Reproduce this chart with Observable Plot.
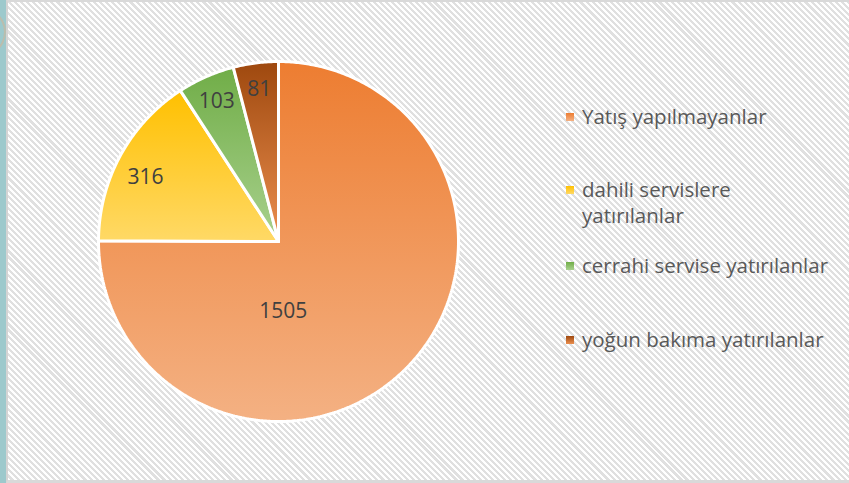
<!DOCTYPE html>
<html><head><meta charset="utf-8">
<script src="https://cdn.jsdelivr.net/npm/d3@7"></script>
<script src="https://cdn.jsdelivr.net/npm/@observablehq/plot@0.6"></script>
<style>
html,body{margin:0;padding:0;width:849px;height:483px;overflow:hidden;background:#fff}
#wrap{position:relative;width:849px;height:483px;overflow:hidden}
#teal{position:absolute;left:0;top:0;width:6px;height:483px;background:#9dc9cc}
#deco{position:absolute;left:-60px;top:4px;width:66px;height:56px;border-radius:50%;border:2px solid #c8b8a0;box-sizing:border-box;opacity:.7}
#bg{position:absolute;left:6px;top:0;width:843px;height:483px;box-sizing:border-box;border-top:2px solid #d9d9d9;border-left:2px solid #d4d4d4;border-bottom:3px solid #d9d9d9;
 background:repeating-linear-gradient(45deg,#ffffff 0px,#ffffff 2.1px,#e0e0e0 2.1px,#e0e0e0 4.3px)}
#chart{position:absolute;left:0;top:0}
#legend{position:absolute;left:0;top:0;font-family:"Open Sans",Lato,sans-serif;font-size:20.5px;color:#595959}
.item{position:absolute;left:582px;line-height:26px;white-space:nowrap}
.sw{position:absolute;left:-16px;top:10px;width:8px;height:8px}
</style></head>
<body><div id="wrap"><div id="teal"></div><div id="deco"></div><div id="bg"></div><div id="chart"></div><div id="legend"></div></div>
<script>
const categories = ["Yatış yapılmayanlar", "dahili servislere yatırılanlar", "cerrahi servise yatırılanlar", "yoğun bakıma yatırılanlar"];
const legendLines = [["Yatış yapılmayanlar"], ["dahili servislere", "yatırılanlar"], ["cerrahi servise yatırılanlar"], ["yoğun bakıma yatırılanlar"]];
const values = [1505, 316, 103, 81];
const topColors = ["#ED7D31", "#FFC000", "#70AD47", "#9E480E"];
const bottomColors = ["#F4B183", "#FFD966", "#A9D18E", "#EC9050"];

const arcs = d3.pie().sort(null).startAngle(0).endAngle(2 * Math.PI)(values);
const slices = arcs.map((a, i) => {
  const pts = [{x: 0, y: 0}];
  const n = Math.max(4, Math.ceil((a.endAngle - a.startAngle) / 0.01));
  for (let k = 0; k <= n; k++) {
    const t = a.startAngle + (a.endAngle - a.startAngle) * k / n;
    pts.push({x: Math.sin(t), y: Math.cos(t)});
  }
  pts.push({x: 0, y: 0});
  return pts;
});
const total = d3.sum(values);
const labels = arcs.map((a, i) => {
  const share = values[i] / total;
  let ang = (a.startAngle + a.endAngle) / 2, r = 0.85;
  if (share > 0.5) { ang = Math.PI * 0.978; r = 0.39; }
  else if (share > 0.1) { ang -= 0.05; r = 0.82; }
  return {x: Math.sin(ang) * r, y: Math.cos(ang) * r, text: String(values[i])};
});

const defs = () => {
  const g = d3.create("svg:defs");
  topColors.forEach((c, i) => {
    const lg = g.append("linearGradient").attr("id", "g" + i).attr("x1", 0).attr("y1", 0).attr("x2", 0).attr("y2", 1);
    lg.append("stop").attr("offset", "0%").attr("stop-color", c);
    lg.append("stop").attr("offset", "100%").attr("stop-color", bottomColors[i]);
  });
  return g.node();
};

const chart = Plot.plot({
  width: 849, height: 483,
  margin: 0,
  style: {background: "transparent", overflow: "visible"},
  x: {domain: [-1, 1], range: [98, 458], axis: null},
  y: {domain: [-1, 1], range: [421, 61], axis: null},
  marks: [
    defs,
    ...slices.map((pts, i) => Plot.line(pts, {x: "x", y: "y", fill: `url(#g${i})`, stroke: "white", strokeWidth: 3, strokeLinejoin: "miter", curve: "linear"})),
    Plot.text(labels, {x: "x", y: "y", text: "text", fontSize: 21, fill: "#404040", fontFamily: "'Open Sans', Lato, sans-serif"})
  ]
});
document.getElementById("chart").appendChild(chart);

const legendTops = [103, 176, 252, 326];
const leg = document.getElementById("legend");
categories.forEach((c, i) => {
  const d = document.createElement("div");
  d.className = "item";
  d.style.top = legendTops[i] + "px";
  d.innerHTML = `<span class="sw" style="background:linear-gradient(${topColors[i]},${bottomColors[i]})"></span>` + legendLines[i].join("<br>");
  leg.appendChild(d);
});
</script></body></html>
